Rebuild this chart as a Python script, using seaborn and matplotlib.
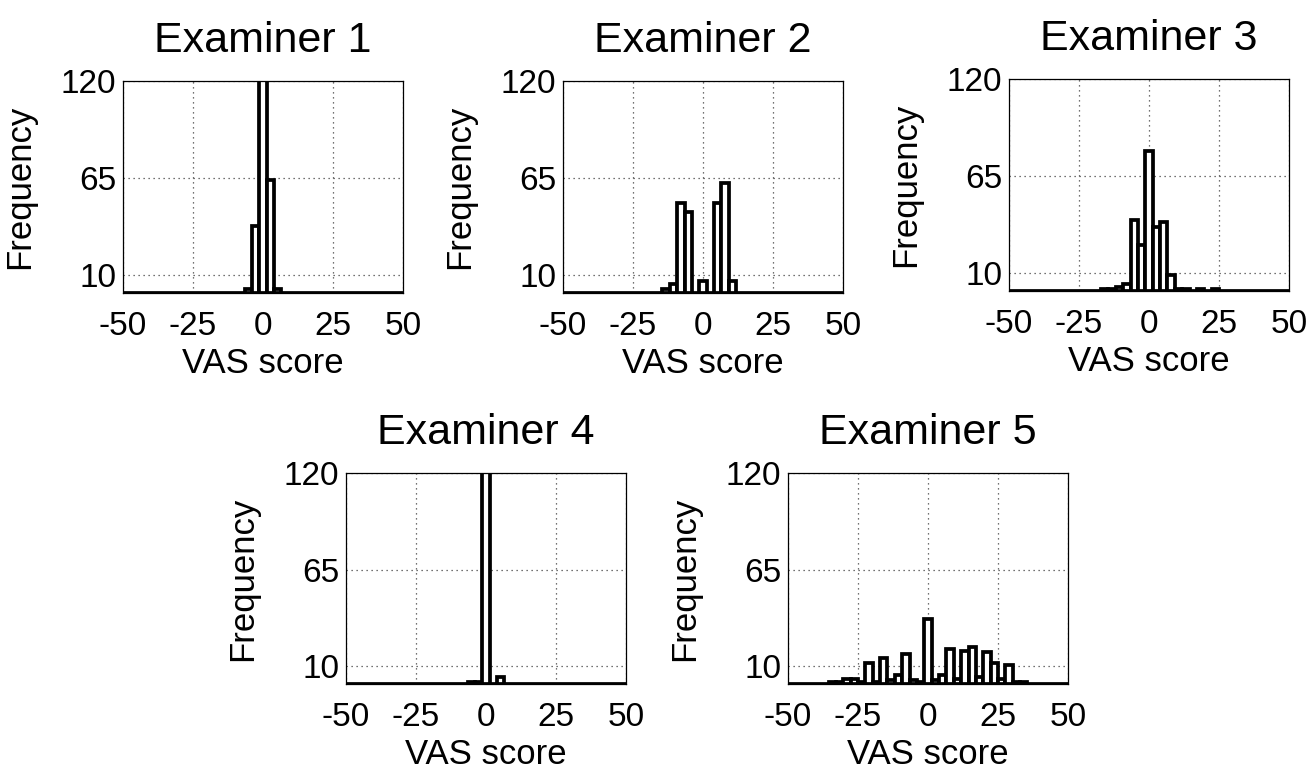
import numpy as np
import pandas as pd
import matplotlib
matplotlib.use("Agg")
import matplotlib.pyplot as plt
import seaborn as sns

# Histogram bins: 39 equally spaced centres from -50 to 50
bin_centers = np.linspace(-50, 50, 39)
bin_width = bin_centers[1] - bin_centers[0]
bin_edges = list(np.append(bin_centers - bin_width / 2, bin_centers[-1] + bin_width / 2))

titles = ["Examiner 1", "Examiner 2", "Examiner 3", "Examiner 4", "Examiner 5"]

# Occupied bins (offset from the zero bin) and their frequencies
e1_bins = [-2, -1, 0, 1, 2]
e1_counts = [2, 38, 134, 64, 2]

e2_bins = [-5, -4, -3, -2, 0, 2, 3, 4]
e2_counts = [2, 5, 51, 46, 7, 51, 62, 7]

e3_bins = [-6, -5, -4, -3, -2, -1, 0, 1, 2, 3, 4, 5, 7, 9]
e3_counts = [1, 1, 2, 4, 40, 26, 79, 36, 39, 9, 1, 1, 1, 1]

e4_bins = [-2, -1, 0, 2]
e4_counts = [1, 1, 234, 4]

e5_bins = list(range(-13, 14))
e5_counts = [1, 1, 3, 3, 1, 12, 1, 15, 2, 5, 17, 2, 1, 37,
             2, 5, 20, 3, 19, 21, 4, 18, 12, 3, 11, 1, 1]

x_ticks = [-50, -25, 0, 25, 50]
y_ticks = [10, 65, 120]
x_label = "VAS score"
y_label = "Frequency"

frames = []
for title, bins, counts in zip(
        titles,
        [e1_bins, e2_bins, e3_bins, e4_bins, e5_bins],
        [e1_counts, e2_counts, e3_counts, e4_counts, e5_counts]):
    frames.append(pd.DataFrame({
        "examiner": title,
        "score": np.asarray(bins) * bin_width,
        "count": counts,
    }))
data = pd.concat(frames, ignore_index=True)

sns.set_style("white")
plt.rcParams["font.family"] = ["Liberation Sans", "DejaVu Sans"]
plt.rcParams["axes.unicode_minus"] = False
plt.rcParams["text.color"] = "black"
plt.rcParams["axes.labelcolor"] = "black"

W, H = 1310, 771
fig = plt.figure(figsize=(W / 100, H / 100), dpi=100)

# axes boxes in pixels: left, top, width, height
boxes = [
    (123, 81, 280, 212),
    (563, 81, 280, 212),
    (1009, 79, 280, 212),
    (346, 473, 280, 211),
    (788, 473, 280, 211),
]

for title, (l, t, w, h) in zip(titles, boxes):
    ax = fig.add_axes([l / W, 1 - (t + h) / H, w / W, h / H])
    sub = data[data["examiner"] == title]
    sns.histplot(data=sub, x="score", weights="count", bins=bin_edges,
                 element="bars", fill=True, color="white", alpha=1,
                 edgecolor="black", linewidth=2.7, ax=ax)
    ax.set_xlim(-50, 50)
    ax.set_ylim(0, 120)
    ax.set_xticks(x_ticks)
    ax.set_yticks(y_ticks)
    ax.set_axisbelow(True)
    ax.grid(True, linestyle=(0, (1, 3)), color="#444444", linewidth=0.9)
    ax.tick_params(length=0, labelsize=24, colors="black")
    ax.tick_params(axis="x", pad=13)
    ax.tick_params(axis="y", pad=5)
    for s in ax.spines.values():
        s.set_visible(True)
        s.set_color("black")
        s.set_linewidth(0.9)
    ax.set_title(title, fontsize=31, pad=21)
    ax.set_xlabel(x_label, fontsize=25)
    ax.set_ylabel(y_label, fontsize=25)
    ax.xaxis.set_label_coords(0.5, -0.255)
    ax.yaxis.set_label_coords(-0.31, 0.5)
    ax.xaxis.label.set_va("top")

fig.savefig("out.png", dpi=100, facecolor="white")
